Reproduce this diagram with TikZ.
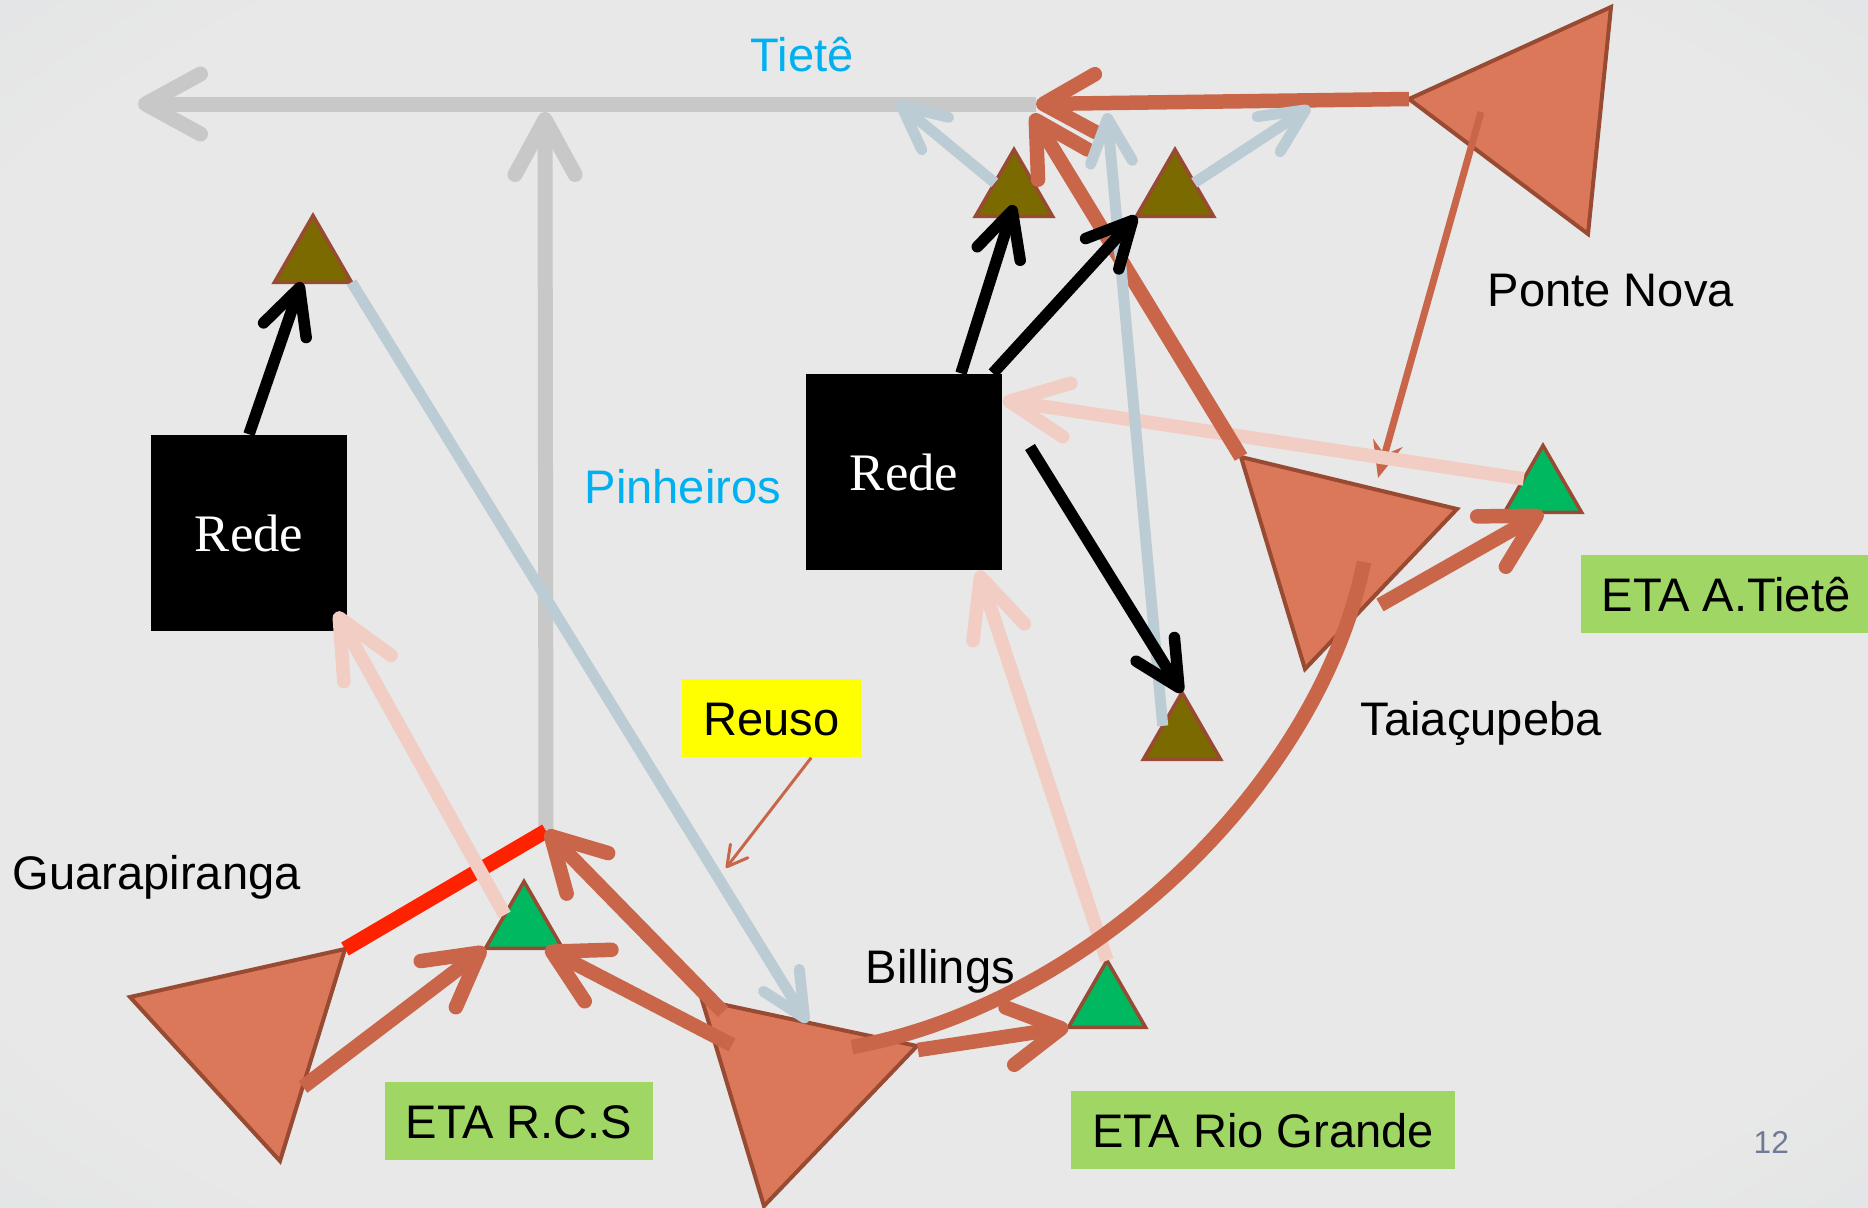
\documentclass[tikz,border=0pt]{standalone}
\usepackage{fontspec}
\setmainfont{Liberation Sans}
\newfontfamily\redefont{Liberation Serif}
\usetikzlibrary{arrows.meta,shapes.geometric,calc}

\definecolor{bgcolor}{RGB}{232,232,232}
\definecolor{bgedge}{RGB}{216,220,223}
\definecolor{riverline}{RGB}{200,200,200}
\definecolor{riverblue}{RGB}{0,176,240}
\definecolor{resfill}{RGB}{220,120,90}
\definecolor{resborder}{RGB}{152,74,50}
\definecolor{flowline}{RGB}{201,102,74}
\definecolor{treatline}{RGB}{242,205,195}
\definecolor{sewerline}{RGB}{188,204,212}
\definecolor{olivefill}{RGB}{122,106,0}
\definecolor{etafill}{RGB}{0,184,96}
\definecolor{etabox}{RGB}{160,214,100}
\definecolor{reusobox}{RGB}{255,255,0}
\definecolor{damline}{RGB}{255,34,0}
\definecolor{pagenum}{RGB}{110,122,150}

\pgfdeclareradialshading{vignette}{\pgfpoint{0bp}{0bp}}{color(0bp)=(bgcolor); color(30bp)=(bgcolor); color(50bp)=(bgedge)}
\newcommand\diagfont{\fontsize{13.4}{16}\selectfont}

\begin{document}
\begin{tikzpicture}
[x=0.1mm, y=-0.1mm,
  reservoir/.style={fill=resfill,draw=resborder,line width=0.4mm},%
  station/.style={regular polygon,regular polygon sides=3,minimum size=8.9mm,
    inner sep=0pt,outer sep=0pt,draw=resborder,line width=0.35mm},%
  redeNode/.style={fill=black,minimum width=19.6mm,minimum height=19.6mm,
    inner sep=0pt,text=white,font=\redefont\fontsize{15}{17}\selectfont},%
  labelBox/.style={inner xsep=2.1mm,inner ysep=0pt,minimum height=7.8mm,
    text height=3.4mm,text depth=0mm,font=\diagfont},%
  placeLabel/.style={anchor=base west,inner sep=0pt,font=\diagfont},%
  riverArrow/.style={draw=riverline,line width=1.5mm,
    -{Straight Barb[length=5.5mm,width=6mm,round]}},%
  flowLine/.style={draw=flowline,line width=1.45mm},%
  flowArrow/.style={flowLine,-{Straight Barb[length=5.2mm,width=5.8mm,round]}},%
  thinFlow/.style={draw=flowline,line width=0.7mm,-{Stealth[length=3.6mm,width=3mm]}},%
  noteArrow/.style={draw=flowline,line width=0.3mm,
    -{Straight Barb[length=2mm,width=2.2mm,round]}},%
  treatArrow/.style={draw=treatline,line width=1.35mm,
    -{Straight Barb[length=5.8mm,width=5.4mm,round]}},%
  sewerArrow/.style={draw=sewerline,line width=1.1mm,
    -{Straight Barb[length=4.4mm,width=4.2mm,round]}},%
  supplyArrow/.style={draw=black,line width=1.15mm,
    -{Straight Barb[length=4.5mm,width=4.5mm,round]}},%
  damLine/.style={draw=damline,line width=1.5mm}]
\useasboundingbox (0,0) rectangle (1868,1208);
\fill[shading=vignette] (0,0) rectangle (1868,1208);

%% reservoirs
\coordinate (pn1) at (1409,99);  \coordinate (pn2) at (1611,7);   \coordinate (pn3) at (1588,234);
\coordinate (ta1) at (1241,457); \coordinate (ta2) at (1457,509); \coordinate (ta3) at (1305,669);
\coordinate (bi1) at (702,1000); \coordinate (bi2) at (917,1046); \coordinate (bi3) at (764,1206);
\coordinate (gp1) at (130,997);  \coordinate (gp2) at (345,949);  \coordinate (gp3) at (280,1161);
\foreach \res in {pn,ta,bi,gp}
  \draw[reservoir] (\res1) -- (\res2) -- (\res3) -- cycle;

%% junctions and free ends
\coordinate (tj) at (1036,104);
\coordinate (tjb) at (1032,114);
\coordinate (tieteEnd) at (138,104);
\coordinate (pinTop) at (545,112);
\coordinate (pj) at (546,831);
\coordinate (tieteA) at (897,102);
\coordinate (tieteB) at (1310,107);
\coordinate (tieteC) at (1107,113);
\coordinate (taOut) at (1380,605);
\coordinate (taIn) at (1378,478);
\coordinate (pnOut) at (1481,112);
\coordinate (gpOut) at (303,1087);
\coordinate (biOutA) at (732,1045);
\coordinate (biOutB) at (723,1012);
\coordinate (arcStart) at (852,1047);
\coordinate (arcEnd) at (1364,562);
\coordinate (arcOut) at (918,1050);
\coordinate (rlIn) at (336,612);
\coordinate (rmOut) at (1030,447);
\coordinate (reusoIn) at (726,868);

%% stations
\foreach \nodename/\x/\y/\colour in {
  OA/313/260/olivefill, OB/1014/194/olivefill, OC/1175/194/olivefill,
  OD/1182/737/olivefill, GR/524/926/etafill, GT/1543/490/etafill,
  GG/1107/1005/etafill}
{
  \node (\nodename) at (\x,\y) [station,fill=\colour] {};
}

%% networks
\node[redeNode] (RL) at (249,533) {Rede};
\node[redeNode] (RM) at (904,472) {Rede};

%% rivers
\draw[riverArrow] (tj) -- (tieteEnd);
\draw[riverArrow] (pj) -- (pinTop);
\draw[damLine] (gp2) -- (pj);
\draw[thinFlow] (pnOut) -- (taIn);

%% treated water
\path
\foreach \startnode/\endnode in {GR.side 1/rlIn, GG.corner 1/RM.-53, GT.side 1/RM.36}
{
  (\startnode) edge[treatArrow] (\endnode)
};

%% raw water
\path
\foreach \startnode/\endnode in {pn1/tj, ta1/tjb, taOut/GT.south, gpOut/GR.corner 2,
  biOutB/pj, arcOut/GG.corner 2}
{
  (\startnode) edge[flowArrow] (\endnode)
};
\draw[flowArrow] (biOutA) -- ($(GR.corner 3)+(-17,0)$);
\draw[flowLine] (arcStart) .. controls (1089,1004) and (1319,785) .. (arcEnd);

%% sewage
\path
\foreach \startnode/\endnode in {OB.side 1/tieteA, OC.side 3/tieteB, OD.side 1/tieteC}
{
  (\startnode) edge[sewerArrow] (\endnode)
};
\draw[sewerArrow] (OA.corner 3) -- ($(bi1)!0.49!(bi2)$);

%% supply
\draw[supplyArrow] (RL.north) -- ($(OA.corner 2)!0.35!(OA.corner 3)$);
\draw[supplyArrow] (RM.60) -- ($(OB.center)!0.5!(OB.side 2)$);
\draw[supplyArrow] (RM.48) -- (OC.corner 2);
\draw[supplyArrow] (rmOut) -- (OD.corner 1);

%% labels
\node[placeLabel,text=riverblue] (tiete) at (750,71) {Tietê};
\node[placeLabel,text=riverblue] (pinheiros) at (584,503) {Pinheiros};
\node[placeLabel] (guarapiranga) at (12,889) {Guarapiranga};
\node[placeLabel] (billings) at (865,983) {Billings};
\node[placeLabel] (taiacupeba) at (1360,735) {Taiaçupeba};
\node[placeLabel] (pontenova) at (1487,306) {Ponte Nova};
\node[labelBox,fill=etabox] (etarcs) at (519,1121) {ETA R.C.S};
\node[labelBox,fill=etabox] (etarg) at (1263,1130) {ETA Rio Grande};
\node[labelBox,fill=etabox,anchor=west] (etaat) at (1580,594) {ETA A.Tietê};
\node[labelBox,fill=reusobox] (reuso) at (771.5,718) {Reuso};
\draw[noteArrow] (reuso.-45) -- (reusoIn);
\node[anchor=base west,inner sep=0pt,text=pagenum,font=\fontsize{9}{10}\selectfont]
  (pagenum) at (1753,1153) {12};
\end{tikzpicture}
\end{document}
